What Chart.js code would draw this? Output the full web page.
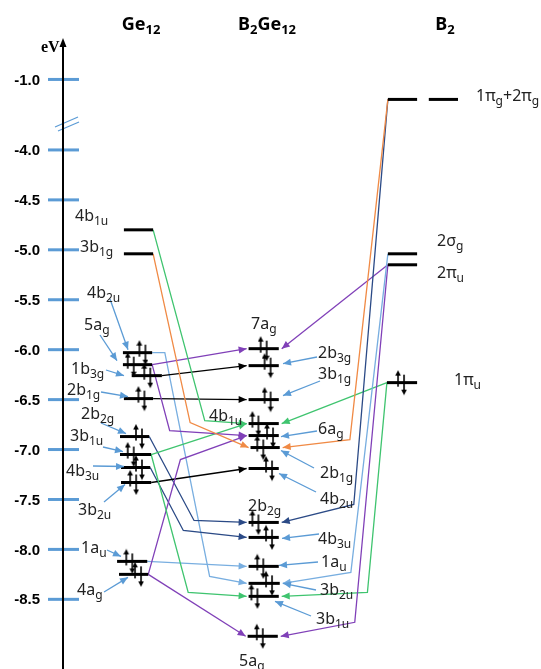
<!DOCTYPE html>
<html>
<head>
<meta charset="utf-8">
<script src="https://cdn.jsdelivr.net/npm/chart.js"></script>
<style>
  html, body { margin: 0; padding: 0; background: #fff; }
  #wrap { width: 541px; height: 669px; }
</style>
</head>
<body>
<div id="wrap"><canvas id="moChart"></canvas></div>
<script>
// energy axis (eV); the axis is broken between -1.0 and -4.0
const tickValues = [-1.0, -4.0, -4.5, -5.0, -5.5, -6.0, -6.5, -7.0, -7.5, -8.0, -8.5];
const tickLabels = ['-1.0', '-4.0', '-4.5', '-5.0', '-5.5', '-6.0', '-6.5', '-7.0', '-7.5', '-8.0', '-8.5'];
const BREAK_SHIFT = 2.294; // values above the break are drawn this much lower

const columns = ['Ge_{12}', 'B_{2}Ge_{12}', 'B_{2}'];

// Ge12 fragment orbitals
const ge12Levels = ['4b_{1u}', '3b_{1g}', '4b_{2u}', '5a_{g}', '1b_{3g}', '2b_{1g}', '2b_{2g}', '3b_{1u}', '4b_{3u}', '3b_{2u}', '1a_{u}', '4a_{g}'];
const ge12Energies = [-4.80, -5.04, -6.03, -6.15, -6.26, -6.49, -6.87, -7.05, -7.18, -7.33, -8.12, -8.25];
const ge12Occupied = [false, false, true, true, true, true, true, true, true, true, true, true];

// B2Ge12 orbitals
const b2ge12Levels = ['7a_{g}', '2b_{3g}', '3b_{1g}', '4b_{1u}', '6a_{g}', '2b_{1g}', '4b_{2u}', '2b_{2g}', '4b_{3u}', '1a_{u}', '3b_{2u}', '3b_{1u}', '5a_{g}'];
const b2ge12Energies = [-5.99, -6.16, -6.50, -6.74, -6.86, -6.98, -7.19, -7.73, -7.88, -8.17, -8.34, -8.47, -8.87];
const b2ge12Occupied = [true, true, true, true, true, true, true, true, true, true, true, true, true];

// B2 fragment orbitals
const b2Levels = ['1π_{g}+2π_{g}', '2σ_{g}', '2π_{u}', '1π_{u}'];
const b2Energies = [-1.20, -5.04, -5.15, -6.33];
const b2Occupied = [false, false, false, true];

// correlations: [colour, from column, from level, to B2Ge12 level, bends [x, eV]]
const GREEN = '#3fc46f', ORANGE = '#f08a45', PURPLE = '#8040b8', NAVY = '#2b4a86', LBLUE = '#78aee0', BLACK = '#000';
const links = [
  [GREEN, 'ge', 0, 3, [[203, -6.71]]],
  [ORANGE, 'ge', 1, 5, [[188, -6.73]]],
  [PURPLE, 'ge', 3, 0, []],
  [PURPLE, 'ge', 3, 4, [[167, -6.81]]],
  [BLACK, 'ge', 4, 1, []],
  [BLACK, 'ge', 5, 2, []],
  [GREEN, 'ge', 7, 3, []],
  [GREEN, 'ge', 7, 11, [[186, -8.43]]],
  [PURPLE, 'ge', 11, 4, [[178, -7.10]]],
  [PURPLE, 'ge', 11, 12, []],
  [BLACK, 'ge', 9, 6, []],
  [NAVY, 'ge', 6, 7, [[192, -7.71]]],
  [NAVY, 'ge', 8, 8, [[181, -7.81]]],
  [LBLUE, 'ge', 2, 10, [[162, -6.03], [208, -8.27]]],
  [LBLUE, 'ge', 10, 9, []],
  [ORANGE, 'b2', 0, 5, [[352, -6.90]]],
  [NAVY, 'b2', 0, 7, [[356, -7.55]]],
  [LBLUE, 'b2', 1, 10, [[353, -8.23]]],
  [PURPLE, 'b2', 2, 0, []],
  [PURPLE, 'b2', 2, 12, [[357, -8.73]]],
  [GREEN, 'b2', 3, 3, []],
  [GREEN, 'b2', 3, 11, [[370, -8.43]]]
];

// ---- layout (pixels) ----
const geSpan = [[120,150],[120,150],[119,149],[119,149],[128,159],[120,150],[116,146],[116,148],[117,147],[117,148],[113,144],[115,145]];
const geSpin = [0, 0, 139, 127, 144, 138, 135.5, 127, 135.5, 129.5, 125.5, 134.5];
const geLabel = [[75,215],[80,246],[87,292],[84,324],[71,368],[67,389],[81,413],[70,435],[66,470],[78,509],[81,547],[77,589]];
const geCallout = [null, null, [110,299,128,-3], [100,335,117,-4], [106,370,124,0], [101,392,128,-2], [101,423,126,-3], [103,447,123,-3], [93,466,124,-1], [104,502,125,2], [107,550,121,-5], [104,592,128,3]];

const bgSpan = [[248,279],[248,279],[248,279],[248,279],[248,279],[250,280],[248,279],[248,279],[248,279],[248,279],[248,280],[248,279],[247,278]];
const bgSpin = [263.5, 267.5, 267.5, 255, 270, 260, 269, 255, 269, 260, 269, 254, 259.5];
const bgLabel = [[251,323],[318,352],[318,373],[209,415],[318,428],[320,472],[320,498],[248,505],[318,538],[321,561],[320,589],[316,618],[239,660]];
const bgCallout = [null, [317,357,283,-2], [320,381,283,-4], null, [317,431,281,1], [314,468,281,3], [316,492,279,5], null, [319,534,282,1], [318,562,279,-1], [316,590,283,0], [311,616,275,5], null];

const b2Span = [[[391,421],[433,463]], [[391,421]], [[391,421]], [[390,421]]];
const b2Spin = [0, 0, 0, 404.5];
const b2Label = [[476,95],[437,240],[437,272],[454,379]];

function axisValue(e) { return e > -3 ? e - BREAK_SHIFT : e; }

function spinPair() {
  const c = document.createElement('canvas');
  c.width = 12; c.height = 26;
  const g = c.getContext('2d');
  g.strokeStyle = g.fillStyle = '#000';
  g.lineWidth = 1.6;
  g.beginPath(); g.moveTo(3, 17); g.lineTo(3, 5); g.stroke();
  g.beginPath(); g.moveTo(3, 0.5); g.lineTo(0.2, 6); g.lineTo(5.8, 6); g.closePath(); g.fill();
  g.beginPath(); g.moveTo(9, 5); g.lineTo(9, 20); g.stroke();
  g.beginPath(); g.moveTo(9, 25.5); g.lineTo(6.2, 20); g.lineTo(11.8, 20); g.closePath(); g.fill();
  return c;
}
const pairImg = spinPair();

function drawRich(ctx, text, x, baseY, size, weight, align, color) {
  const parts = text.split(/_\{([^}]*)\}/);
  const subSize = Math.round(size * 0.74);
  const mainFont = weight + ' ' + size + 'px "Noto Sans", sans-serif';
  const subFont = weight + ' ' + subSize + 'px "Noto Sans", sans-serif';
  let w = 0;
  parts.forEach((p, i) => { ctx.font = i % 2 ? subFont : mainFont; w += ctx.measureText(p).width; });
  let cx = align === 'center' ? x - w / 2 : x;
  ctx.fillStyle = color;
  ctx.textAlign = 'left';
  ctx.textBaseline = 'alphabetic';
  parts.forEach((p, i) => {
    ctx.font = i % 2 ? subFont : mainFont;
    ctx.fillText(p, cx, i % 2 ? baseY + size * 0.24 : baseY);
    cx += ctx.measureText(p).width;
  });
}

function arrowHead(ctx, x0, y0, x1, y1, color, len, half) {
  const a = Math.atan2(y1 - y0, x1 - x0);
  ctx.fillStyle = color;
  ctx.beginPath();
  ctx.moveTo(x1, y1);
  ctx.lineTo(x1 - len * Math.cos(a) + half * Math.sin(a), y1 - len * Math.sin(a) - half * Math.cos(a));
  ctx.lineTo(x1 - len * Math.cos(a) - half * Math.sin(a), y1 - len * Math.sin(a) + half * Math.cos(a));
  ctx.closePath();
  ctx.fill();
}

// ---- datasets ----
const datasets = [];
const levelLine = (x1, x2, e) => ({
  data: [{ x: x1, y: axisValue(e) }, { x: x2, y: axisValue(e) }],
  showLine: true, borderColor: '#000', borderWidth: 3, pointRadius: 0, order: 1
});
const spins = [];

ge12Energies.forEach((e, i) => {
  datasets.push(levelLine(geSpan[i][0], geSpan[i][1], e));
  if (ge12Occupied[i]) spins.push({ x: geSpin[i], y: axisValue(e) });
});
b2ge12Energies.forEach((e, i) => {
  datasets.push(levelLine(bgSpan[i][0], bgSpan[i][1], e));
  if (b2ge12Occupied[i]) spins.push({ x: bgSpin[i], y: axisValue(e) });
});
b2Energies.forEach((e, i) => {
  b2Span[i].forEach(s => datasets.push(levelLine(s[0], s[1], e)));
  if (b2Occupied[i]) spins.push({ x: b2Spin[i], y: axisValue(e) });
});

datasets.push({ data: spins, pointStyle: pairImg, pointRadius: 6, showLine: false, order: 0 });

links.forEach(([color, col, from, to, bends]) => {
  const start = col === 'ge'
    ? { x: geSpan[from][1], y: axisValue(ge12Energies[from]) }
    : { x: b2Span[from][0][0], y: axisValue(b2Energies[from]) };
  const tipX = col === 'ge' ? bgSpan[to][0] - 2 : bgSpan[to][1] + 3;
  const pts = [start].concat(bends.map(b => ({ x: b[0], y: b[1] })), [{ x: tipX, y: axisValue(b2ge12Energies[to]) }]);
  datasets.push({ data: pts, showLine: true, borderColor: color, borderWidth: 1.3, pointRadius: 0, tension: 0, order: 2, arrow: true });
});

// ---- drawing of axis, labels and arrowheads ----
const diagramPlugin = {
  id: 'diagram',
  beforeDatasetsDraw(chart) {
    const ctx = chart.ctx, ys = chart.scales.y;
    ctx.save();
    tickValues.forEach((v, i) => {
      const py = ys.getPixelForValue(axisValue(v));
      ctx.strokeStyle = '#5b9bd5';
      ctx.lineWidth = 3;
      ctx.beginPath(); ctx.moveTo(48, py); ctx.lineTo(79, py); ctx.stroke();
      ctx.fillStyle = '#000';
      ctx.font = 'bold 15px "Liberation Sans", Arial, sans-serif';
      ctx.textAlign = 'right';
      ctx.textBaseline = 'middle';
      ctx.fillText(tickLabels[i], 40, py + 1);
    });
    // axis break
    ctx.strokeStyle = '#5b9bd5';
    ctx.lineWidth = 1.2;
    ctx.beginPath(); ctx.moveTo(55, 127); ctx.lineTo(78, 117); ctx.stroke();
    ctx.beginPath(); ctx.moveTo(58, 131); ctx.lineTo(79, 122); ctx.stroke();
    // axis
    ctx.strokeStyle = '#000';
    ctx.lineWidth = 2;
    ctx.beginPath(); ctx.moveTo(63, 669); ctx.lineTo(63, 45); ctx.stroke();
    ctx.fillStyle = '#000';
    ctx.beginPath(); ctx.moveTo(63, 38); ctx.lineTo(59.5, 47); ctx.lineTo(66.5, 47); ctx.closePath(); ctx.fill();
    ctx.font = 'bold 16px "Liberation Serif", "DejaVu Serif", serif';
    ctx.textAlign = 'left';
    ctx.textBaseline = 'alphabetic';
    ctx.fillText('eV', 41, 52);
    // column headers
    drawRich(ctx, columns[0], 141, 30, 18, 'bold', 'center', '#000');
    drawRich(ctx, columns[1], 267, 30, 18, 'bold', 'center', '#000');
    drawRich(ctx, columns[2], 445, 30, 18, 'bold', 'center', '#000');
    ctx.restore();
  },
  afterDatasetsDraw(chart) {
    const ctx = chart.ctx, ys = chart.scales.y;
    ctx.save();
    chart.data.datasets.forEach((ds, i) => {
      if (!ds.arrow) return;
      const pts = chart.getDatasetMeta(i).data;
      const a = pts[pts.length - 2], b = pts[pts.length - 1];
      arrowHead(ctx, a.x, a.y, b.x, b.y, ds.borderColor, 8, 3.5);
    });
    const callouts = (names, energies, labels, calls) => {
      names.forEach((n, i) => {
        const c = calls && calls[i];
        if (c) {
          const ty = ys.getPixelForValue(axisValue(energies[i])) + c[3];
          ctx.strokeStyle = '#5b9bd5';
          ctx.lineWidth = 1.3;
          ctx.beginPath(); ctx.moveTo(c[0], c[1]); ctx.lineTo(c[2], ty); ctx.stroke();
          arrowHead(ctx, c[0], c[1], c[2], ty, '#5b9bd5', 8, 3.5);
        }
        drawRich(ctx, n, labels[i][0], labels[i][1] + 6, 16, 'normal', 'left', '#222');
      });
    };
    callouts(ge12Levels, ge12Energies, geLabel, geCallout);
    callouts(b2ge12Levels, b2ge12Energies, bgLabel, bgCallout);
    callouts(b2Levels, b2Energies, b2Label, null);
    ctx.restore();
  }
};

new Chart(document.getElementById('moChart'), {
  type: 'scatter',
  data: { datasets: datasets },
  options: {
    responsive: true,
    maintainAspectRatio: false,
    animation: false,
    events: [],
    layout: { padding: 0 },
    plugins: { legend: { display: false }, tooltip: { enabled: false } },
    scales: {
      x: { type: 'linear', min: 0, max: 541, display: false },
      y: { type: 'linear', min: -9.1275, max: -2.5686, display: false }
    }
  },
  plugins: [diagramPlugin]
});
</script>
</body>
</html>
